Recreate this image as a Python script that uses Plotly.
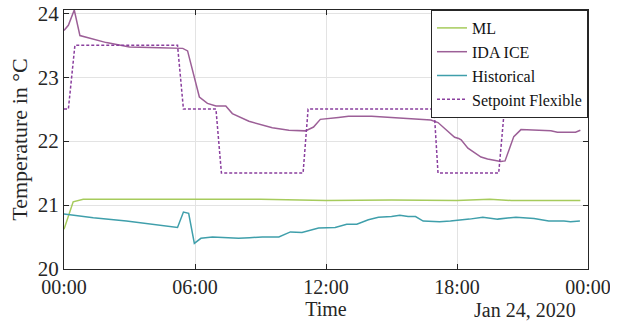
import pandas as pd
import plotly.graph_objects as go

base = pd.Timestamp("2020-01-24 00:00")

# ML
ml_h = [0, 0.42, 0.88, 3, 6, 9, 12, 15, 18, 19.5, 20.5, 23.65]
ml_t = [20.62, 21.05, 21.09, 21.09, 21.08, 21.09, 21.07, 21.08, 21.07, 21.09, 21.07, 21.07]

# IDA ICE
ida_h = [0, 0.2, 0.47, 0.73, 1.94, 3.0, 4.37, 5.44, 5.66, 6.2, 6.57, 6.96, 7.41, 7.71,
         8.47, 9.54, 10.3, 11.06, 11.43, 11.74, 12.57, 13.03, 14.09, 15.6, 16.8, 17.13,
         17.89, 18.08, 18.19, 18.5, 19.1, 19.4, 20.0, 20.2, 20.6, 20.93, 21.7, 22.3,
         22.6, 23.43, 23.65]
ida_t = [23.73, 23.81, 24.05, 23.65, 23.54, 23.47, 23.46, 23.45, 23.41, 22.69, 22.59, 22.55,
         22.55, 22.43, 22.31, 22.21, 22.17, 22.16, 22.22, 22.34, 22.37, 22.39, 22.39, 22.36,
         22.33, 22.29, 22.06, 22.04, 22.02, 21.89, 21.75, 21.72, 21.68, 21.69, 22.07, 22.18,
         22.17, 22.16, 22.14, 22.14, 22.17]

# Historical
hist_h = [0, 1.34, 2.86, 5.2, 5.47, 5.71, 5.97, 6.27, 6.8, 8.0, 8.5, 9.08, 9.84, 10.37,
          10.9, 11.66, 12.42, 12.95, 13.41, 13.94, 14.4, 15.0, 15.38, 15.76, 16.1, 16.45,
          17.2, 17.7, 18.57, 19.18, 19.86, 20.7, 21.53, 22.2, 22.9, 23.2, 23.63]
hist_t = [20.86, 20.80, 20.75, 20.65, 20.89, 20.87, 20.40, 20.48, 20.50, 20.48, 20.49, 20.50,
          20.50, 20.58, 20.57, 20.64, 20.65, 20.70, 20.70, 20.77, 20.81, 20.82, 20.84, 20.82,
          20.82, 20.75, 20.74, 20.75, 20.78, 20.81, 20.78, 20.81, 20.79, 20.75, 20.75, 20.74,
          20.75]

# Setpoint Flexible
sp_h = [0, 0.2, 0.5, 5.2, 5.47, 6.96, 7.21, 10.95, 11.18, 16.95, 17.13, 19.91, 20.17,
        23.13, 23.4, 23.65]
sp_t = [22.5, 22.5, 23.5, 23.5, 22.5, 22.5, 21.5, 21.5, 22.5, 22.5, 21.5, 21.5, 22.5,
        22.5, 23.5, 23.5]


def to_time(hours):
    return base + pd.to_timedelta(hours, unit="h")


FONT = "Liberation Serif"
AX = "#262626"

L, T, R, B = 64, 10, 36, 56
PW, PH = 624 - L - R, 325 - T - B

fig = go.Figure()
fig.add_trace(go.Scatter(x=to_time(ml_h), y=ml_t, mode="lines", name="ML",
                         line=dict(color="#a6cb5c", width=1.5)))
fig.add_trace(go.Scatter(x=to_time(ida_h), y=ida_t, mode="lines", name="IDA ICE",
                         line=dict(color="#9c5f97", width=1.5)))
fig.add_trace(go.Scatter(x=to_time(hist_h), y=hist_t, mode="lines", name="Historical",
                         line=dict(color="#3f9fab", width=1.5)))
fig.add_trace(go.Scatter(x=to_time(sp_h), y=sp_t, mode="lines", name="Setpoint Flexible",
                         line=dict(color="#8a3f9e", width=1.5, dash="3px,2px")))

fig.update_layout(
    width=624, height=325,
    margin=dict(l=L, r=R, t=T, b=B, autoexpand=False),
    paper_bgcolor="white", plot_bgcolor="white",
    font=dict(family=FONT, size=20, color=AX),
    showlegend=True,
    legend=dict(x=1, y=1, xanchor="right", yanchor="top",
                bgcolor="white", bordercolor=AX, borderwidth=1,
                font=dict(family=FONT, size=16, color="#111"),
                itemwidth=30, tracegroupgap=0),
    xaxis=dict(
        type="date", automargin=False,
        range=[base, base + pd.Timedelta(hours=24)],
        tickformat="%H:%M", dtick=6 * 3600 * 1000,
        tick0=base,
        showgrid=True, gridcolor="#e3e3e3", gridwidth=1,
        showline=True, linecolor=AX, linewidth=1, mirror="ticks",
        ticks="inside", ticklen=5, tickcolor=AX,
        tickfont=dict(family=FONT, size=20, color=AX),
        title=dict(text="Time", font=dict(family=FONT, size=20, color=AX), standoff=4),
        zeroline=False,
    ),
    yaxis=dict(
        automargin=False,
        range=[20, 24.05],
        tickvals=[20, 21, 22, 23, 24],
        showgrid=True, gridcolor="#e3e3e3", gridwidth=1,
        showline=True, linecolor=AX, linewidth=1, mirror="ticks",
        ticks="inside", ticklen=5, tickcolor=AX,
        tickfont=dict(family=FONT, size=21, color=AX),
        title=dict(text="Temperature in °C", font=dict(family=FONT, size=22, color=AX), standoff=4),
        zeroline=False,
    ),
    annotations=[dict(text="Jan 24, 2020", xref="paper", yref="paper",
                      x=(525 - L) / PW, y=-(310 - (T + PH)) / PH,
                      xanchor="center", yanchor="middle", showarrow=False,
                      font=dict(family=FONT, size=20, color=AX))],
    shapes=[dict(type="rect", xref="paper", yref="paper",
                 x0=(610 - L) / PW, x1=(640 - L) / PW,
                 y0=-(300 - (T + PH)) / PH, y1=-(271 - (T + PH)) / PH,
                 fillcolor="white", line=dict(width=0), layer="above")],
)

fig.write_html("out.html", config={"displayModeBar": False},
               post_script="document.body.style.margin='0';")
